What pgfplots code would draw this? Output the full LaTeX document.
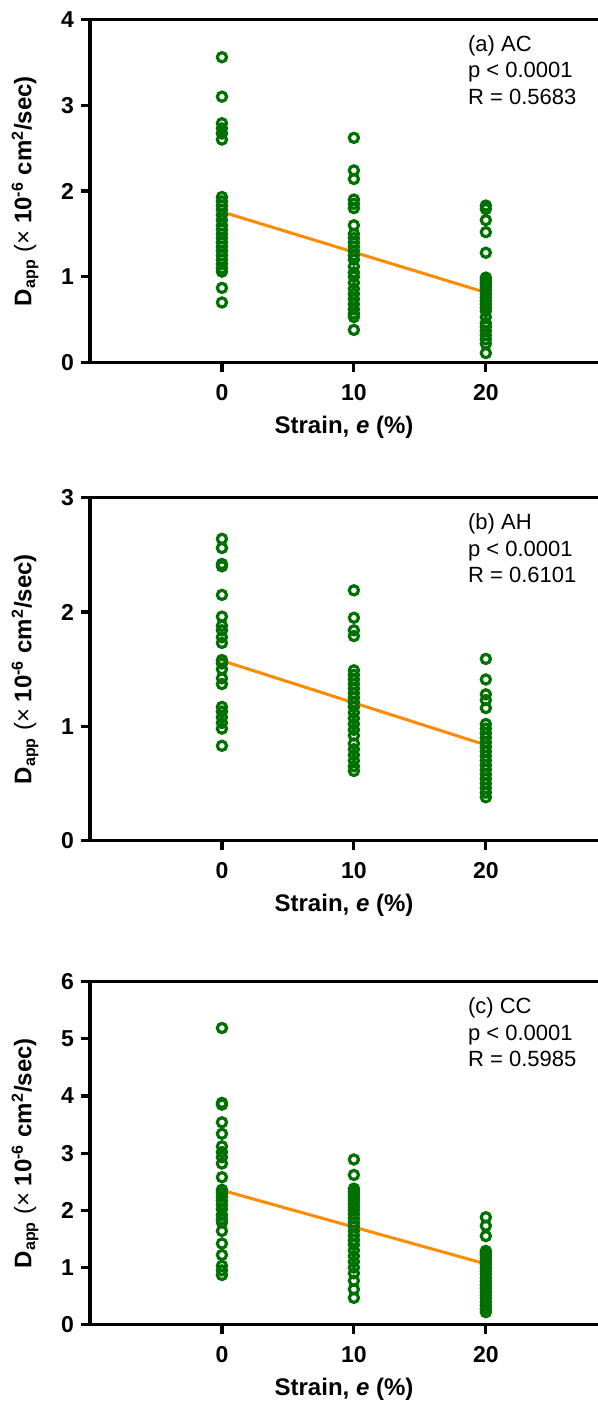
\documentclass[border=0pt]{standalone}
\usepackage{fontspec}
\setmainfont{Liberation Sans}
\usepackage{pgfplots}
\pgfplotsset{compat=1.18}
\definecolor{dgreen}{RGB}{0,112,0}
\definecolor{lorange}{RGB}{255,140,0}
\newcommand{\tickfont}{\fontsize{11.5}{13}\selectfont\bfseries}
\newcommand{\lblfont}{\fontsize{12}{14}\selectfont\bfseries}
\newcommand{\annfont}{\fontsize{11}{13}\selectfont}
\pgfplotsset{
 panel/.style={
  scale only axis, width=254pt, height=171.5pt,
  xmin=-10, xmax=28.5, ymin=0,
  axis x line*=bottom, axis y line*=left,
  axis line style={line width=1.6pt, -},
  tick style={line width=1.6pt, black},
  major tick length=4.5pt,
  tick align=outside,
  xtick={0,10,20},
  /pgf/number format/assume math mode=true,
  ticklabel style={font=\tickfont},
  xticklabel style={yshift=-3pt},
  clip=false,
  anchor=north west,
 },
 pts/.style={only marks, mark=o, mark size=2.3pt, mark options={line width=1.6pt, draw=dgreen}},
 fit/.style={no marks, line width=1.5pt, lorange},
}
\newcommand{\decor}[3]{%
  \draw[line width=1.6pt] (rel axis cs:0,1) -- (rel axis cs:1,1);
  \node[rotate=90, font=\lblfont] at ([xshift=-32.5pt]axis description cs:0,0.5) {D\textsubscript{app} {\mdseries(×} 10\textsuperscript{-6} cm\textsuperscript{2}/sec)};
  \node[anchor=base, font=\lblfont] at ([yshift=-35.5pt]axis description cs:0.5,0) {Strain, \textit{e} (\%)};
  \node[anchor=base west, font=\annfont, inner sep=0pt] at ([xshift=188.85pt, yshift=-15.8pt]axis description cs:0,1) {#1};
  \node[anchor=base west, font=\annfont, inner sep=0pt] at ([xshift=188.85pt, yshift=-29.15pt]axis description cs:0,1) {#2};
  \node[anchor=base west, font=\annfont, inner sep=0pt] at ([xshift=188.85pt, yshift=-42.5pt]axis description cs:0,1) {#3};
}
\begin{document}
\begin{tikzpicture}
\path[use as bounding box] (-45pt,0) rectangle (254pt,-701.5pt);
% Panel (a)
\begin{axis}[panel, at={(0,-9.75pt)}, ymax=4, ytick={0,1,2,3,4}]
\addplot[pts] coordinates {
(0,3.56) (0,3.10) (0,2.79) (0,2.73) (0,2.67) (0,2.60) (0,1.93) (0,1.88) (0,1.83) (0,1.78) (0,1.72) (0,1.66) (0,1.60) (0,1.55) (0,1.50) (0,1.45) (0,1.40) (0,1.35) (0,1.30) (0,1.25) (0,1.20) (0,1.15) (0,1.10) (0,1.06) (0,0.87) (0,0.70)
(10,2.62) (10,2.24) (10,2.14) (10,1.90) (10,1.85) (10,1.80) (10,1.60) (10,1.50) (10,1.45) (10,1.40) (10,1.35) (10,1.30) (10,1.25) (10,1.20) (10,1.12) (10,1.05) (10,1.00) (10,0.93) (10,0.86) (10,0.80) (10,0.74) (10,0.68) (10,0.62) (10,0.57) (10,0.53) (10,0.38)
(20,1.83) (20,1.79) (20,1.66) (20,1.52) (20,1.28) (20,0.99) (20,0.96) (20,0.93) (20,0.90) (20,0.87) (20,0.84) (20,0.80) (20,0.76) (20,0.72) (20,0.68) (20,0.64) (20,0.60) (20,0.53) (20,0.46) (20,0.42) (20,0.37) (20,0.32) (20,0.27) (20,0.22) (20,0.11)
};
\addplot[fit] coordinates {(0,1.757) (20,0.816)};
\decor{(a) AC}{p < 0.0001}{R = 0.5683}
\end{axis}
% Panel (b)
\begin{axis}[panel, at={(0,-248.85pt)}, ymax=3, ytick={0,1,2,3}]
\addplot[pts] coordinates {
(0,2.64) (0,2.56) (0,2.42) (0,2.40) (0,2.15) (0,1.96) (0,1.88) (0,1.84) (0,1.78) (0,1.73) (0,1.58) (0,1.55) (0,1.50) (0,1.42) (0,1.37) (0,1.17) (0,1.13) (0,1.08) (0,1.03) (0,0.98) (0,0.83)
(10,2.19) (10,1.95) (10,1.84) (10,1.79) (10,1.49) (10,1.45) (10,1.41) (10,1.37) (10,1.33) (10,1.29) (10,1.25) (10,1.21) (10,1.17) (10,1.12) (10,1.07) (10,1.02) (10,0.97) (10,0.92) (10,0.85) (10,0.80) (10,0.75) (10,0.70) (10,0.65) (10,0.61)
(20,1.59) (20,1.41) (20,1.28) (20,1.23) (20,1.16) (20,1.02) (20,0.98) (20,0.94) (20,0.90) (20,0.86) (20,0.82) (20,0.78) (20,0.74) (20,0.70) (20,0.66) (20,0.62) (20,0.58) (20,0.54) (20,0.50) (20,0.46) (20,0.42) (20,0.38)
};
\addplot[fit] coordinates {(0,1.575) (20,0.837)};
\decor{(b) AH}{p < 0.0001}{R = 0.6101}
\end{axis}
% Panel (c)
\begin{axis}[panel, at={(0,-490.85pt)}, ymax=6, ytick={0,1,2,3,4,5,6}]
\addplot[pts] coordinates {
(0,5.19) (0,3.88) (0,3.85) (0,3.54) (0,3.34) (0,3.12) (0,3.02) (0,2.93) (0,2.82) (0,2.58) (0,2.36) (0,2.30) (0,2.24) (0,2.17) (0,2.10) (0,2.02) (0,1.92) (0,1.85) (0,1.79) (0,1.64) (0,1.42) (0,1.22) (0,1.03) (0,0.95) (0,0.87)
(10,2.89) (10,2.62) (10,2.38) (10,2.33) (10,2.28) (10,2.23) (10,2.18) (10,2.12) (10,2.06) (10,2.00) (10,1.93) (10,1.86) (10,1.79) (10,1.72) (10,1.64) (10,1.56) (10,1.48) (10,1.40) (10,1.30) (10,1.20) (10,1.10) (10,1.00) (10,0.90) (10,0.77) (10,0.62) (10,0.47)
(20,1.88) (20,1.73) (20,1.55) (20,1.29) (20,1.25) (20,1.21) (20,1.16) (20,1.11) (20,1.06) (20,1.00) (20,0.94) (20,0.88) (20,0.82) (20,0.76) (20,0.70) (20,0.64) (20,0.58) (20,0.52) (20,0.46) (20,0.40) (20,0.34) (20,0.28) (20,0.22)
};
\addplot[fit] coordinates {(0,2.352) (20,1.063)};
\decor{(c) CC}{p < 0.0001}{R = 0.5985}
\end{axis}
\end{tikzpicture}
\end{document}
